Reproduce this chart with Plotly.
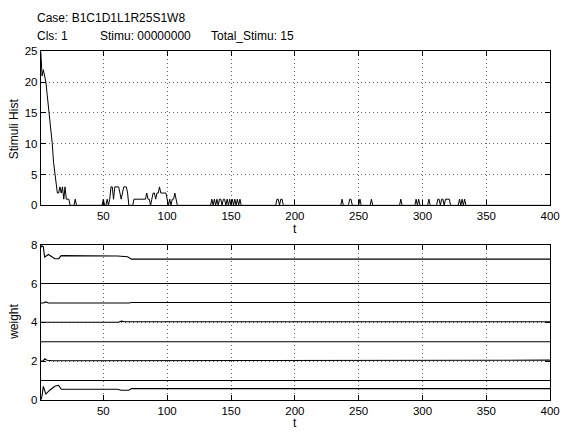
import plotly.graph_objects as go

# ---------------- data ----------------
# Stimuli histogram: explicit values for t = 1..30
stim_early = [25, 21, 22, 21, 20, 18, 16, 15, 12, 10, 7, 5, 3, 2, 2, 3, 2, 3, 1, 3,
              1, 1, 1, 0, 0, 0, 0, 1, 0, 0]
# nonzero values after t = 30 (all others are zero)
stim_t = [50, 53, 55, 56, 57, 58, 59, 60, 61, 62, 63, 64, 65, 66, 67, 68, 69,
          74, 75, 76, 77, 78, 79, 80, 81, 82, 83, 84, 85, 86, 88, 89, 90, 91, 92,
          93, 94, 95, 96, 97, 98, 99, 100, 102, 104, 105, 106, 107,
          135, 137, 139, 141, 142, 144, 145, 147, 149, 151, 153, 155, 157,
          186, 187, 189, 190, 237, 243, 244, 251, 260, 283, 295, 297, 305,
          312, 313, 315, 316, 318, 319, 320, 321, 329, 331, 333]
stim_v = [1, 1, 1, 3, 3, 1, 3, 3, 3, 3, 2, 1, 2, 3, 3, 3, 2,
          1, 1, 1, 1, 1, 1, 1, 1, 1, 1, 2, 1, 1, 1, 2, 2, 1, 2,
          2, 3, 2, 2, 2, 2, 2, 1, 1, 1, 1, 2, 1,
          1, 1, 1, 1, 1, 1, 1, 1, 1, 1, 1, 1, 1,
          1, 1, 1, 1, 1, 1, 1, 1, 1, 1, 1, 1, 1,
          1, 1, 1, 1, 1, 1, 1, 1, 1, 1, 1]

T_MAX = 400
stim = [0] * T_MAX
for i, v in enumerate(stim_early):
    stim[i] = v
for t, v in zip(stim_t, stim_v):
    stim[t - 1] = v
t_all = list(range(1, T_MAX + 1))

# weights (breakpoints)
w8_t = [1, 2, 3, 4, 7, 12, 15, 17, 61, 69, 72, 400]
w8_v = [7.87, 7.95, 7.9, 7.37, 7.5, 7.28, 7.28, 7.44, 7.42, 7.38, 7.26, 7.26]
w7_t = [1, 400]
w7_v = [6.0, 6.0]
w6_t = [1, 3, 5, 7, 70, 72, 400]
w6_v = [5.0, 5.0, 5.05, 5.0, 5.0, 5.02, 5.02]
w5_t = [1, 62, 64, 67, 400]
w5_v = [4.0, 4.0, 4.06, 4.03, 4.03]
w4_t = [1, 400]
w4_v = [3.0, 3.0]
w3_t = [1, 3, 4, 6, 10, 70, 72, 400]
w3_v = [2.0, 2.0, 2.12, 2.04, 2.02, 2.02, 2.05, 2.05]
w2_t = [1, 400]
w2_v = [1.0, 1.0]
w1_t = [1, 2, 3, 5, 8, 12, 15, 17, 61, 64, 70, 72, 400]
w1_v = [0.0, 0.2, 0.7, 0.3, 0.5, 0.7, 0.75, 0.55, 0.55, 0.5, 0.5, 0.58, 0.58]
weights = [(w1_t, w1_v), (w2_t, w2_v), (w3_t, w3_v), (w4_t, w4_v),
           (w5_t, w5_v), (w6_t, w6_v), (w7_t, w7_v), (w8_t, w8_v)]

x_ticks = [50, 100, 150, 200, 250, 300, 350, 400]
top_y_ticks = [0, 5, 10, 15, 20, 25]
bot_y_ticks = [0, 2, 4, 6, 8]

header_case = "Case: B1C1D1L1R25S1W8"
header_cls = "Cls: 1"
header_stimu = "Stimu: 00000000"
header_total = "Total_Stimu: 15"

# ---------------- figure ----------------
W, H = 570, 437
FONT = "Liberation Sans, Arial, Helvetica, sans-serif"

def px(x):
    return x / W

def py(y):
    return 1 - y / H

fig = go.Figure()
fig.add_trace(go.Scatter(x=t_all, y=stim, mode="lines",
                         line=dict(color="black", width=1),
                         xaxis="x", yaxis="y", showlegend=False))
for wt, wv in weights:
    fig.add_trace(go.Scatter(x=wt, y=wv, mode="lines",
                             line=dict(color="black", width=1.1),
                             xaxis="x2", yaxis="y2", showlegend=False))

axis_common = dict(showline=True, linecolor="black", linewidth=1, mirror="ticks",
                   ticks="inside", ticklen=5, tickcolor="black",
                   showgrid=True, gridcolor="rgba(0,0,0,0.6)", gridwidth=1,
                   griddash="1px,3px", zeroline=False,
                   tickfont=dict(family=FONT, size=11.5, color="black"))

x_dom = [px(41.5), px(560)]
fig.update_layout(
    width=W, height=H,
    margin=dict(l=0, r=0, t=0, b=0),
    paper_bgcolor="white", plot_bgcolor="white",
    font=dict(family=FONT, size=12, color="black"),
    xaxis=dict(domain=x_dom, range=[1, 400], tickvals=x_ticks, anchor="y",
               **axis_common),
    yaxis=dict(domain=[py(205), py(46.5)], range=[0, 25], tickvals=top_y_ticks,
               anchor="x", **axis_common),
    xaxis2=dict(domain=x_dom, range=[1, 400], tickvals=x_ticks, anchor="y2",
                **axis_common),
    yaxis2=dict(domain=[py(405), py(245.5)], range=[0, 8], tickvals=bot_y_ticks,
                anchor="x2", **axis_common),
)

def text(x, y, s, angle=0, xanchor="left", size=12):
    fig.add_annotation(x=px(x), y=py(y), xref="paper", yref="paper", text=s,
                       showarrow=False, xanchor=xanchor, yanchor="middle",
                       textangle=angle,
                       font=dict(family=FONT, size=size, color="black"))

text(36, 12, header_case)
text(36, 31, header_cls)
text(100, 31, header_stimu)
text(213, 31, header_total)
text(300, 229, "t", xanchor="center")
text(300, 429, "t", xanchor="center")
text(14, 126, "Stimuli Hist", angle=-90, xanchor="center")
text(14, 325, "weight", angle=-90, xanchor="center")

fig.write_html("out.html")
